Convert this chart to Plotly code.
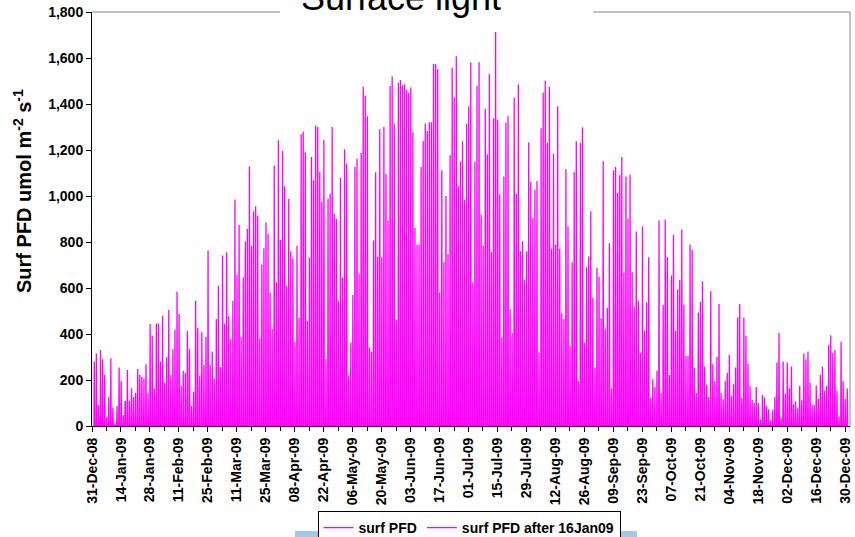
import pandas as pd
import plotly.graph_objects as go

# Daily peak surface PFD (umol m-2 s-1), one value per day from 01-Jan-09
peaks_q1 = [280, 315, 92, 330, 290, 222, 40, 126, 295, 80, 10, 87, 254, 196, 48, 109, 243, 109, 164, 126,
            145, 248, 222, 214, 206, 269, 145, 443, 394, 164, 446, 446, 280, 479, 189, 300, 504, 222, 336, 418,
            584, 487, 174, 240, 232, 414, 336, 87, 150, 545, 426, 218, 408, 266, 388, 763, 264, 324, 206, 465,
            610, 257, 741, 446, 754, 477, 378, 545, 985, 658, 875, 388, 647, 802, 856, 1129, 785, 933, 955, 915,
            382, 702, 773, 885, 835, 580, 424, 1133, 625, 1242]
peaks_q2 = [809, 1196, 1042, 610, 987, 760, 729, 366, 783, 472, 1268, 1280, 1190, 458, 731, 1170, 1068, 1306, 1300, 1104,
            976, 1245, 291, 988, 1010, 1300, 923, 901, 545, 1078, 647, 1203, 1141, 218, 363, 570, 1126, 1162, 661, 1187,
            1475, 1437, 1347, 341, 324, 806, 1103, 737, 1290, 734, 1300, 1097, 894, 1478, 1521, 1315, 462, 1492, 1504, 1482,
            1486, 1463, 1449, 1472, 1277, 862, 789, 789, 1126, 1239, 1315, 1283, 1321, 1321, 1574, 1574, 1552, 581, 1112, 712,
            1000, 748, 1177, 1558, 1428, 1608, 1043, 1151, 1238, 984, 1313]
peaks_q3 = [1390, 1582, 625, 1148, 1478, 1582, 920, 785, 1379, 1181, 1530, 756, 1338, 1713, 1332, 1007, 385, 1085, 1318, 1347,
            509, 407, 1428, 1010, 1485, 760, 803, 635, 760, 1234, 1061, 905, 1027, 1065, 320, 1295, 1449, 1501, 1231, 1475,
            772, 1184, 789, 1390, 772, 490, 465, 1116, 867, 349, 712, 1103, 1238, 196, 1231, 1299, 363, 690, 737, 934,
            559, 254, 687, 649, 468, 1151, 424, 513, 795, 164, 1112, 1126, 1013, 1090, 1170, 668, 1085, 901, 1094, 668,
            519, 846, 545, 320, 867, 414, 538, 734, 124, 203]
peaks_q4 = [170, 240, 894, 145, 527, 898, 734, 222, 654, 831, 414, 594, 635, 854, 527, 305, 305, 789, 766, 254,
            145, 494, 540, 629, 259, 179, 126, 586, 269, 196, 300, 530, 145, 116, 196, 232, 309, 131, 182, 254,
            472, 530, 124, 472, 392, 272, 174, 113, 100, 170, 100, 29, 135, 124, 87, 73, 25, 71, 126, 276,
            405, 36, 280, 141, 276, 164, 259, 97, 106, 77, 174, 112, 315, 289, 324, 190, 92, 92, 176, 118,
            222, 259, 153, 174, 353, 395, 318, 330, 153, 39, 366, 196, 118, 163]

peaks = peaks_q1 + peaks_q2 + peaks_q3 + peaks_q4
days = pd.date_range("2009-01-01", periods=len(peaks), freq="D")
split_date = pd.Timestamp("2009-01-16")

series_names = ["surf PFD", "surf PFD after 16Jan09"]
line_color = "#FF00FF"

peak_offset = pd.Timedelta(hours=2, minutes=30)
half_day = pd.Timedelta(hours=4)


def build(mask_fn):
    xs, ys = [], []
    for d, p in zip(days, peaks):
        if mask_fn(d):
            t = d + peak_offset
            xs += [t - half_day, t, t + half_day]
            ys += [0, p, 0]
    return xs, ys


x1, y1 = build(lambda d: d <= split_date)
x2, y2 = build(lambda d: d >= split_date)

fig = go.Figure()
fig.add_trace(go.Scatter(x=x1, y=y1, mode="lines", name=series_names[0],
                         line=dict(color=line_color, width=1.3)))
fig.add_trace(go.Scatter(x=x2, y=y2, mode="lines", name=series_names[1],
                         line=dict(color=line_color, width=1.3)))

font_family = "Arial, Liberation Sans, sans-serif"

W, H = 855, 537
L, R, T, B = 92, 5, 12, 111
pw = W - L - R
ph = H - T - B


def px(xp):
    return (xp - L) / pw


def py(yp):
    return (H - B - yp) / ph


fig.update_layout(
    width=W, height=H,
    margin=dict(l=L, r=R, t=T, b=B, autoexpand=False),
    paper_bgcolor="white", plot_bgcolor="white",
    font=dict(family=font_family, color="black"),
    showlegend=True,
    legend=dict(orientation="h", xref="container", yref="container",
                x=469 / W, xanchor="center", y=1 - 511 / H, yanchor="top",
                bgcolor="white", bordercolor="black", borderwidth=1,
                font=dict(size=14, weight="bold", family=font_family),
                itemwidth=30, tracegroupgap=0),
    xaxis=dict(
        type="date", automargin=False,
        range=["2008-12-31", "2010-01-01 10:00"],
        tick0="2008-12-31", dtick=14 * 86400000,
        tickformat="%d-%b-%y", tickangle=-90,
        tickfont=dict(size=14, weight="bold", family=font_family),
        ticks="outside", ticklen=5, tickcolor="black",
        minor=dict(dtick=7 * 86400000, tick0="2008-12-31", ticks="outside", ticklen=4, tickcolor="black"),
        showgrid=False, zeroline=False,
        showline=True, linecolor="black", linewidth=1,
    ),
    yaxis=dict(
        automargin=False,
        range=[0, 1800], dtick=200, tickformat=",",
        tickfont=dict(size=14, weight="bold", family=font_family),
        ticks="outside", ticklen=5, tickcolor="black",
        showgrid=False, zeroline=False,
        showline=True, linecolor="black", linewidth=1,
    ),
    shapes=[
        dict(type="line", xref="paper", yref="paper", x0=0, x1=1, y0=1, y1=1,
             line=dict(color="#888888", width=1), layer="above"),
        dict(type="line", xref="paper", yref="paper", x0=1, x1=1, y0=0, y1=1,
             line=dict(color="#888888", width=1), layer="above"),
        dict(type="rect", xref="paper", yref="paper", x0=px(280), x1=px(593), y0=py(16), y1=py(-5),
             fillcolor="white", line=dict(width=0), layer="above"),
        dict(type="rect", xref="paper", yref="paper", x0=px(295), x1=px(637), y0=py(537), y1=py(531),
             fillcolor="#99CCEE", line=dict(width=0), layer="above"),
    ],
    annotations=[
        dict(text="Surface light", xref="paper", yref="paper", x=px(401), y=py(-3),
             xanchor="center", yanchor="middle", showarrow=False,
             font=dict(size=36, family=font_family, color="black")),
        dict(text="Surf PFD umol m<sup>-2</sup> s<sup>-1</sup>", xref="paper", yref="paper",
             x=px(22), y=py(191), xanchor="center", yanchor="middle", textangle=-90, showarrow=False,
             font=dict(size=20, weight="bold", family=font_family, color="black")),
    ],
)

fig.write_html("out.html", config={"displayModeBar": False},
               post_script="document.body.style.margin='0';document.body.style.overflow='hidden';")
